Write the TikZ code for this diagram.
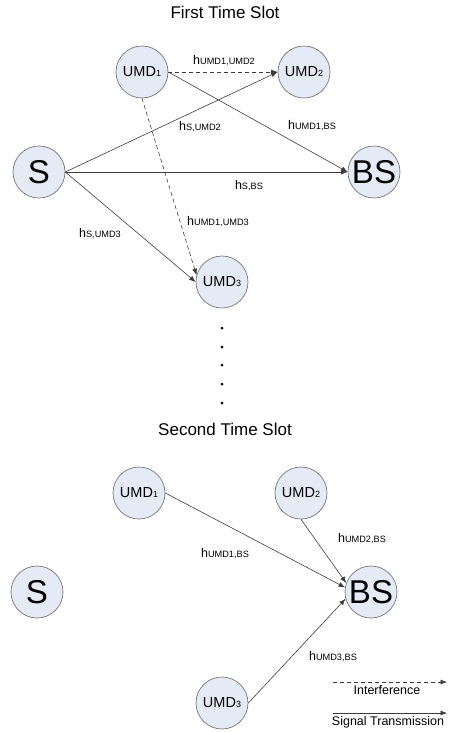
\documentclass[tikz,border=0pt]{standalone}
\usepackage{fontspec}
\setmainfont{Liberation Sans}
\usetikzlibrary{arrows.meta}
\definecolor{nodefill}{RGB}{228,234,246}
\definecolor{nodeline}{RGB}{120,120,120}
\definecolor{linkcol}{RGB}{60,60,60}
\newcommand{\umd}[1]{UMD{\fontsize{9}{9}\selectfont #1}}
\newcommand{\chan}[1]{h{\fontsize{9.2}{9.2}\selectfont #1}}
\tikzset{
  station/.style={circle, draw=nodeline, fill=nodefill, minimum size=52pt, inner sep=0pt, line width=0.7pt},
  umdtext/.style={font=\fontsize{14.5}{14.5}\selectfont},
  bigtext/.style={font=\fontsize{33}{33}\selectfont},
  chanlabel/.style={font=\fontsize{12.5}{12.5}\selectfont, inner sep=0pt},
  slottitle/.style={font=\fontsize{17}{17}\selectfont, inner sep=0pt},
  legendtext/.style={font=\fontsize{12.5}{12.5}\selectfont, inner sep=0pt},
  signal/.style={->, draw=linkcol, line width=0.6pt},
  interf/.style={->, draw=linkcol, line width=0.6pt, dash pattern=on 4pt off 3pt},
}
\begin{document}
\begin{tikzpicture}[x=1pt, y=-1pt, >={Latex[length=6.5pt,width=5pt]}]
  \useasboundingbox (0,0) rectangle (455,732);

  % first time slot
  \node[slottitle] (title1) at (225,12) {First Time Slot};
  \node[station, bigtext] (Sa) at (39,172) {S};
  \node[station, bigtext] (BSa) at (374,172) {BS};
  \node[station, umdtext] (UMD1a) at (142,72) {\umd{1}};
  \node[station, umdtext] (UMD2a) at (304,72) {\umd{2}};
  \node[station, umdtext] (UMD3a) at (222,282) {\umd{3}};

  \draw (UMD1a.east) edge[interf] (UMD2a.west);
  \draw (UMD1a.south) edge[interf] (UMD3a.165);
  \draw (Sa.east) edge[signal] (UMD2a.west);
  \draw (Sa.east) edge[signal] (BSa.west);
  \draw (Sa.east) edge[signal] (UMD3a.west);
  \draw (UMD1a.east) edge[signal] (BSa.west);

  \node[chanlabel] (h12) at (224,61) {\chan{UMD1,UMD2}};
  \node[chanlabel] (hs2) at (200,127) {\chan{S,UMD2}};
  \node[chanlabel] (h1b) at (312,126) {\chan{UMD1,BS}};
  \node[chanlabel] (hsb) at (249,186) {\chan{S,BS}};
  \node[chanlabel] (h13) at (218,222) {\chan{UMD1,UMD3}};
  \node[chanlabel] (hs3) at (100,234) {\chan{S,UMD3}};

  % dots between the slots
  \foreach \y in {328,347,365,384,403}
    \fill (222,\y) circle (1.5);

  % second time slot
  \node[slottitle] (title2) at (225,429) {Second Time Slot};
  \node[station, bigtext] (Sb) at (37,592) {S};
  \node[station, bigtext] (BSb) at (371,592) {BS};
  \node[station, umdtext] (UMD1b) at (139,493) {\umd{1}};
  \node[station, umdtext] (UMD2b) at (301,493) {\umd{2}};
  \node[station, umdtext] (UMD3b) at (222,703) {\umd{3}};

  \draw (UMD1b.east) edge[signal] (BSb.170);
  \draw (UMD2b.south) edge[signal] (BSb.160);
  \draw (UMD3b.east) edge[signal] (BSb.195);

  \node[chanlabel] (h2b) at (362,539) {\chan{UMD2,BS}};
  \node[chanlabel] (h1bb) at (225,554) {\chan{UMD1,BS}};
  \node[chanlabel] (h3b) at (333,657) {\chan{UMD3,BS}};

  % legend
  \coordinate (intA) at (333,682);
  \coordinate (intB) at (447,682);
  \coordinate (sigA) at (333,713);
  \coordinate (sigB) at (447,713);
  \draw (intA) edge[interf] (intB);
  \draw (sigA) edge[signal] (sigB);
  \node[legendtext] (intlab) at (387,690) {Interference};
  \node[legendtext] (siglab) at (388,722) {Signal Transmission};
\end{tikzpicture}
\end{document}
